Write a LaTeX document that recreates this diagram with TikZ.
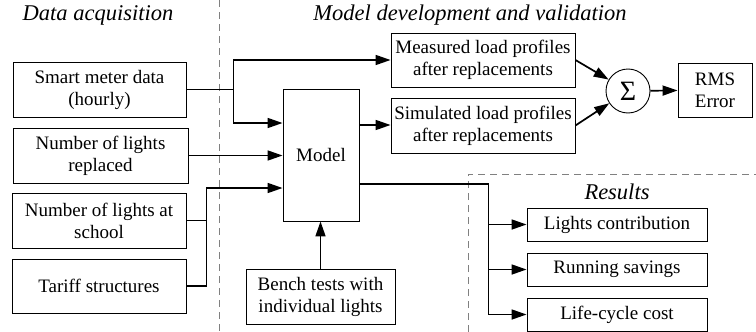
\documentclass[tikz,border=0pt]{standalone}
\usepackage{fontspec}
\setmainfont{Liberation Serif}
\usetikzlibrary{arrows.meta,calc}
\begin{document}
\begin{tikzpicture}[x=1pt,y=-1pt,
  box/.style={draw,line width=0.9pt,align=center,inner sep=0pt,
    font=\fontsize{19}{22}\selectfont},
  link/.style={line width=1.7pt,-{Triangle[length=15pt,width=10pt]}},
  wire/.style={line width=1.7pt},
  sep/.style={draw=gray,line width=0.8pt,dash pattern=on 7pt off 5pt},
  heading/.style={font=\fontsize{22.5}{26}\selectfont\itshape}]
\useasboundingbox (0,0) rectangle (756,332);

% section separators
\draw[sep] (219,0) -- (219,332);
\draw[sep] (468,332) |- (756,174);

% headings
\node[heading] (h1) at (98,15) {Data acquisition};
\node[heading] (h2) at (470,15) {Model development and validation};
\node[heading] (h3) at (617,192) {Results};

% inputs
\node[box,minimum width=173pt,minimum height=55pt] (sm) at (99.5,89.5) {Smart meter data\\(hourly)};
\node[box,minimum width=175pt,minimum height=55pt] (nr) at (100.5,155.5) {Number of lights\\replaced};
\node[box,minimum width=174pt,minimum height=55pt] (ns) at (99,220.5) {Number of lights at\\school};
\node[box,minimum width=174pt,minimum height=54pt] (ts) at (99,286) {Tariff structures};

% model and validation
\node[box,minimum width=76pt,minimum height=132pt] (model) at (321,155) {Model};
\node[box,minimum width=149pt,minimum height=55pt] (bench) at (320.5,296.5) {Bench tests with\\individual lights};
\node[box,minimum width=184pt,minimum height=54pt] (meas) at (483,60) {Measured load profiles\\after replacements};
\node[box,minimum width=184pt,minimum height=55pt] (sim) at (483,125.5) {Simulated load profiles\\after replacements};
\node[draw,circle,line width=0.9pt,minimum size=44pt,inner sep=0pt,
  font=\fontsize{28}{28}\selectfont] (sig) at (628,91) {Σ};
\node[box,minimum width=74pt,minimum height=54pt] (rms) at (715,90) {RMS\\Error};

% results
\node[box,minimum width=180pt,minimum height=33pt] (lc) at (617,224.5) {Lights contribution};
\node[box,minimum width=180pt,minimum height=33pt] (rs) at (617,269.5) {Running savings};
\node[box,minimum width=180pt,minimum height=33pt] (lcc) at (617,314.5) {Life-cycle cost};

% smart meter data feeds both the measured profiles and the model
\coordinate (j1) at ($(sm.east)+(47,0)$);
\draw[wire] (sm.east) -- (j1);
\draw[link] (j1) |- (meas.west);
\draw[link] (j1) |- ($(model.west)+(0,-32)$);

\draw[link] (nr.east) -- (nr.east -| model.west);

\coordinate (j2) at ($(ns.east)+(20,0)$);
\draw[wire] (ns.east) -- (j2);
\draw[link] (ts.east) -| (j2) |- ($(model.west)+(0,33)$);

\draw[link] (bench.north) -- (bench.north |- model.south);

% model outputs
\coordinate (mo1) at ($(model.east)+(0,-30)$);
\draw[link] (mo1) -- (mo1 -| sim.west);
\coordinate (mo2) at ($(model.east)+(0,29)$);
\coordinate (j3) at ($(mo2)+(129,0)$);
\draw[wire] (mo2) -- (j3) -- (j3 |- lcc.west);
\foreach \n in {lc,rs,lcc}
  \draw[link] (j3 |- \n.west) -- (\n.west);

% error computation
\draw[link] (meas.east) -- (sig);
\draw[link] (sim.east) -- (sig);
\draw[link] (sig) -- (rms);
\end{tikzpicture}
\end{document}
